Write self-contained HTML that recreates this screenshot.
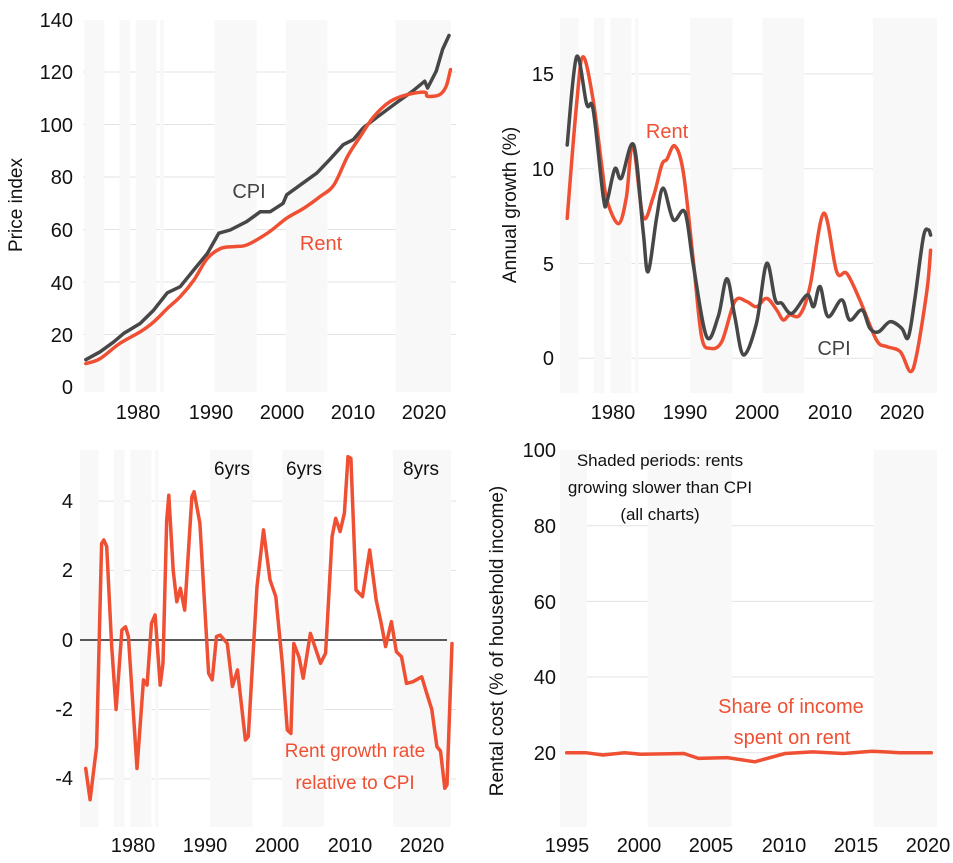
<!DOCTYPE html>
<html><head><meta charset="utf-8">
<style>
html,body{margin:0;padding:0;background:#fff;}
svg{display:block;font-family:"Liberation Sans","DejaVu Sans",sans-serif;}
.t{font-size:20px;fill:#111;}
.lab{font-size:19px;fill:#111;}
</style></head>
<body>
<svg id="s" width="953" height="863" viewBox="0 0 953 863" xmlns="http://www.w3.org/2000/svg">
<g id="bg"></g>
<g id="lines"></g>
<!-- Panel 1 text -->
<g class="t" text-anchor="end">
<text x="73" y="27">140</text><text x="73" y="79">120</text><text x="73" y="132">100</text>
<text x="73" y="184">80</text><text x="73" y="237">60</text><text x="73" y="290">40</text>
<text x="73" y="342">20</text><text x="73" y="394">0</text>
</g>
<g class="t" text-anchor="middle">
<text x="138" y="419">1980</text><text x="211" y="419">1990</text><text x="282" y="419">2000</text><text x="353" y="419">2010</text><text x="424" y="419">2020</text>
</g>
<text class="lab" transform="translate(22,205) rotate(-90)" text-anchor="middle">Price index</text>
<text x="249" y="198" font-size="20" fill="#444" text-anchor="middle">CPI</text>
<text x="321" y="250" font-size="20" fill="#ef5033" text-anchor="middle">Rent</text>
<!-- Panel 2 text -->
<g class="t" text-anchor="end">
<text x="554" y="81">15</text><text x="554" y="176">10</text><text x="554" y="271">5</text><text x="554" y="365">0</text>
</g>
<g class="t" text-anchor="middle">
<text x="613" y="419">1980</text><text x="685" y="419">1990</text><text x="757" y="419">2000</text><text x="830" y="419">2010</text><text x="902" y="419">2020</text>
</g>
<text class="lab" transform="translate(516,205) rotate(-90)" text-anchor="middle">Annual growth (%)</text>
<text x="667" y="138" font-size="20" fill="#ef5033" text-anchor="middle">Rent</text>
<text x="834" y="355" font-size="20" fill="#444" text-anchor="middle">CPI</text>
<!-- Panel 3 text -->
<g class="t" text-anchor="end">
<text x="73" y="508">4</text><text x="73" y="577">2</text><text x="73" y="647">0</text><text x="73" y="716">-2</text><text x="73" y="785">-4</text>
</g>
<g class="t" text-anchor="middle">
<text x="133" y="852">1980</text><text x="205" y="852">1990</text><text x="277" y="852">2000</text><text x="350" y="852">2010</text><text x="422" y="852">2020</text>
</g>
<g font-size="19" fill="#111" text-anchor="middle">
<text x="232" y="475">6yrs</text><text x="304" y="475">6yrs</text><text x="421" y="475">8yrs</text>
</g>
<g font-size="19" fill="#ef5033" text-anchor="middle">
<text x="355" y="757">Rent growth rate</text><text x="355" y="789">relative to CPI</text>
</g>
<!-- Panel 4 text -->
<g class="t" text-anchor="end">
<text x="556" y="457">100</text><text x="556" y="533">80</text><text x="556" y="609">60</text><text x="556" y="684">40</text><text x="556" y="760">20</text>
</g>
<g class="t" text-anchor="middle">
<text x="567" y="852">1995</text><text x="639" y="852">2000</text><text x="711" y="852">2005</text><text x="784" y="852">2010</text><text x="856" y="852">2015</text><text x="928" y="852">2020</text>
</g>
<text class="lab" transform="translate(503,641) rotate(-90)" text-anchor="middle">Rental cost (% of household income)</text>
<g font-size="17" fill="#111" text-anchor="middle">
<text x="660" y="466">Shaded periods: rents</text>
<text x="660" y="493">growing slower than CPI</text>
<text x="660" y="520">(all charts)</text>
</g>
<g font-size="20" fill="#ef5033" text-anchor="middle">
<text x="791" y="713">Share of income</text>
<text x="792" y="744">spent on rent</text>
</g>
</svg>
<script>
(function(){
var NS="http://www.w3.org/2000/svg";
var bg=document.getElementById('bg'),ln=document.getElementById('lines');
function el(p,tag,a){var e=document.createElementNS(NS,tag);for(var k in a)e.setAttribute(k,a[k]);p.appendChild(e);return e;}
var SH=[[1972.5,1975.3],[1977.4,1978.9],[1979.7,1982.6],[1983.1,1983.6],[1990.7,1996.6],[2000.7,2006.5],[2016,2030]];
function panel(o){
  o.grid.forEach(function(v){var y=o.fy(v);el(bg,'line',{x1:o.x0,x2:o.x1,y1:y,y2:y,stroke:'#e3e3e3','stroke-width':1});});
  (o.sh||SH).forEach(function(s){var a=Math.max(o.fx(s[0]),o.x0),b=Math.min(o.fx(s[1]),o.sx1);if(b>a)el(bg,'rect',{x:a,y:o.y0,width:b-a,height:o.y1-o.y0,fill:'#f8f8f8'});});
}
function line(o,d,col,w,smooth){
  var P=d.map(function(q){return [o.fx(q[0]),o.fy(q[1])];});
  var s='M'+P[0][0].toFixed(1)+','+P[0][1].toFixed(1);
  if(smooth){
    for(var i=0;i<P.length-1;i++){
      var p0=P[Math.max(i-1,0)],p1=P[i],p2=P[i+1],p3=P[Math.min(i+2,P.length-1)];
      var c1=[p1[0]+(p2[0]-p0[0])/6,p1[1]+(p2[1]-p0[1])/6],c2=[p2[0]-(p3[0]-p1[0])/6,p2[1]-(p3[1]-p1[1])/6];
      s+=' C'+c1[0].toFixed(1)+','+c1[1].toFixed(1)+' '+c2[0].toFixed(1)+','+c2[1].toFixed(1)+' '+p2[0].toFixed(1)+','+p2[1].toFixed(1);
    }
  } else {for(var j=1;j<P.length;j++)s+=' L'+P[j][0].toFixed(1)+','+P[j][1].toFixed(1);}
  el(ln,'path',{d:s,fill:'none',stroke:col,'stroke-width':w||3,'stroke-linejoin':'round','stroke-linecap':'round'});}
var R='#ef5033',C='#474747';
var p1={x0:83,x1:456,sx1:451,y0:20,y1:392,grid:[120,100,80,60,40,20],fx:function(y){return 138+(y-1980)*7.15;},fy:function(v){return 387-v*2.625;}};
panel(p1);
line(p1,[[1972.7,10.4],[1974.7,13.4],[1976.6,17.2],[1978,20.4],[1980.3,24.2],[1982.2,29.3],[1984.1,35.9],[1985.9,38.2],[1987.8,44.6],[1989.7,50.9],[1991.3,58.6],[1992.9,59.8],[1995.2,63],[1997.1,66.8],[1998.5,66.8],[2000.3,70],[2000.8,73.2],[2002.7,77],[2005,81.5],[2006.8,86.6],[2008.7,92.3],[2010.1,94.2],[2011.5,98.7],[2013.3,102.5],[2016.1,108.2],[2018.4,112.7],[2020.1,116.5],[2020.5,113.9],[2021.7,120.3],[2022.6,128.6],[2023.5,133.9]],C,3.5);
line(p1,[[1972.7,8.9],[1974.7,10.8],[1977.4,16.5],[1980.3,21],[1982.2,24.8],[1984.1,29.9],[1985.9,34.4],[1987.8,40.7],[1989.7,49],[1991.6,52.8],[1993.4,53.5],[1995.2,54.1],[1998.1,58.6],[2000.8,64.3],[2003.2,68.1],[2005.5,72.6],[2007.4,77],[2009.3,87.8],[2011.1,95.5],[2013,103.1],[2015.3,108.8],[2017.7,111.4],[2020.1,112.3],[2020.5,110.7],[2022.2,111.4],[2023.1,114.6],[2023.7,120.9]],R,3.5,true);
var p2={x0:560,x1:937,sx1:937,y0:18,y1:393,grid:[15,10,5,0],fx:function(y){return 612.7+(y-1980)*7.225;},fy:function(v){return 358.3-v*18.96;}};
panel(p2);
line(p2,[[1973.7,7.38],[1975,13.4],[1975.9,15.9],[1977.3,13.6],[1978.5,10.1],[1979.2,8.35],[1980.8,7.1],[1981.9,8.5],[1982.8,11.3],[1984.2,7.47],[1985.6,8.5],[1986.8,10.2],[1987.5,10.5],[1988.6,11.2],[1989.8,9.75],[1991.2,5],[1992.3,1.14],[1993.5,0.53],[1995.1,0.88],[1996.9,3],[1998.5,3],[1999.9,2.72],[2001.3,3.16],[2002.7,2.55],[2003.6,2.02],[2004.5,2.29],[2005.9,2.29],[2007.3,3.78],[2009.2,7.65],[2011,4.57],[2012.4,4.48],[2014.2,3.08],[2016.5,0.97],[2017.9,0.62],[2019.8,0.35],[2021.2,-0.7],[2022.1,0.26],[2023.5,3.6],[2024,5.7]],R,3.5,true);
line(p2,[[1973.7,11.25],[1975,15.9],[1976.4,13.4],[1977.3,13.1],[1978.7,8.5],[1979.2,8.26],[1980.3,10],[1981.2,9.5],[1982.9,11.25],[1984.2,6.77],[1984.9,4.57],[1986.1,7.47],[1987,8.97],[1988.4,7.3],[1990,7.7],[1991.2,4.83],[1993,1.14],[1994.6,2.2],[1995.8,4.2],[1996.9,2.2],[1998.1,0.18],[1999.9,1.85],[2001.3,5],[2002.5,3.08],[2003.4,2.9],[2004.8,2.37],[2006.9,3.34],[2007.8,2.72],[2008.7,3.78],[2009.8,2.2],[2011.7,3.08],[2012.8,2.02],[2014.5,2.55],[2015.6,1.58],[2016.8,1.4],[2018.4,1.93],[2020,1.58],[2020.9,1.1],[2021.8,3.08],[2023,6.4],[2023.7,6.77],[2024,6.5]],C,3.5,true);
var p3={x0:80,x1:456,sx1:451,y0:450,y1:827,grid:[4,2,-2,-4],fx:function(y){return 132.7+(y-1980)*7.225;},fy:function(v){return 640-v*34.73;}};
panel(p3);
el(ln,'line',{x1:80,x2:447,y1:640,y2:640,stroke:'#222','stroke-width':1.5});
line(p3,[[1973.5,-3.7],[1974.1,-4.6],[1975,-3.07],[1975.7,2.78],[1976,2.88],[1976.4,2.69],[1977.1,-0.19],[1977.7,-2.0],[1978.5,0.29],[1979,0.38],[1979.4,0.1],[1980.6,-3.7],[1981.5,-1.15],[1982,-1.3],[1982.6,0.48],[1983.1,0.72],[1983.8,-1.3],[1984.2,-0.67],[1984.7,3.45],[1985,4.17],[1985.6,2.0],[1986.1,1.1],[1986.6,1.49],[1987.2,0.86],[1988.2,4.13],[1988.5,4.27],[1989.3,3.36],[1990.5,-0.96],[1991,-1.15],[1991.6,0.1],[1992.1,0.14],[1993.1,-0.1],[1993.8,-1.34],[1994.5,-0.86],[1995.6,-2.88],[1996,-2.78],[1997.2,1.54],[1998.1,3.17],[1999,1.73],[1999.8,1.25],[2000.7,-0.67],[2001.4,-2.59],[2001.9,-2.69],[2002.3,-0.1],[2003,-0.48],[2003.6,-1.1],[2004.6,0.19],[2006,-0.67],[2006.7,-0.38],[2007.6,2.98],[2008.1,3.5],[2008.7,3.12],[2009.3,3.65],[2009.8,5.28],[2010.2,5.23],[2010.9,1.44],[2011.8,1.25],[2012.8,2.59],[2013.7,1.15],[2014.4,0.48],[2015,-0.19],[2015.8,0.53],[2016.5,-0.34],[2017.2,-0.48],[2017.9,-1.25],[2018.8,-1.2],[2020,-1.06],[2020.7,-1.54],[2021.4,-2.0],[2022.1,-3.07],[2022.6,-3.2],[2023.2,-4.27],[2023.5,-4.17],[2024.2,-0.1]],R,3.5);
var p4={x0:560,x1:937,sx1:937,y0:450,y1:827,grid:[80,60,40,20],sh:[[1990,1996.4],[2000.6,2006.4],[2016.2,2030]],fx:function(y){return 566.7+(y-1995)*14.47;},fy:function(v){return 752.7-(v-20)*3.783;}};
panel(p4);
line(p4,[[1995,20],[1996.3,20],[1997.5,19.4],[1999,20],[2000.1,19.6],[2003.1,19.8],[2004.1,18.5],[2006.1,18.7],[2008,17.6],[2010.1,19.8],[2012,20.2],[2014.1,19.8],[2016.1,20.4],[2018,20],[2020.2,20]],R,3.5);
})();
</script>
</body></html>
